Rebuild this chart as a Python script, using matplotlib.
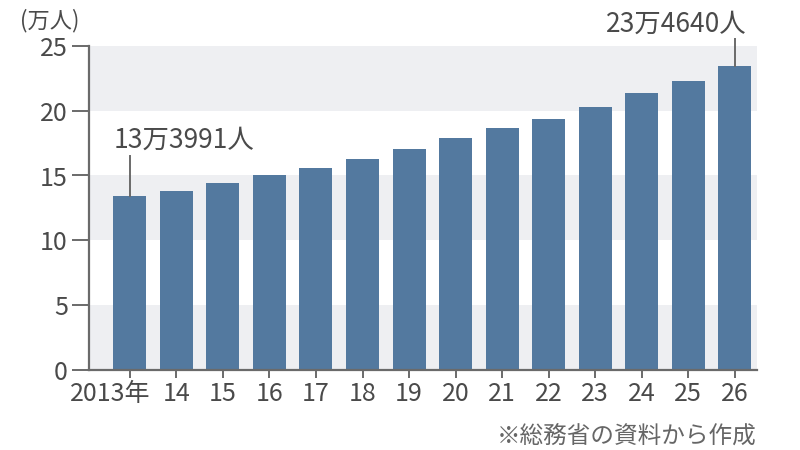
import matplotlib
matplotlib.use('Agg')
import matplotlib.pyplot as plt
import matplotlib.transforms as mtransforms

years = ['2013年', '14', '15', '16', '17', '18', '19', '20', '21', '22', '23', '24', '25', '26']
values = [13.3991, 13.77, 14.4, 15.0, 15.6, 16.3, 17.05, 17.9, 18.65, 19.37, 20.3, 21.35, 22.3, 23.464]
first_label = '13万3991人'
last_label = '23万4640人'
unit_label = '(万人)'
source_label = '※総務省の資料から作成'

fam = ['Noto Sans CJK JP', 'DejaVu Sans']
plt.rcParams['font.family'] = fam
txt = '#4a4a4a'
bar_c = '#53799f'
band_c = '#eeeff2'

fig = plt.figure(figsize=(8, 4.5), dpi=100)
ax = fig.add_axes([0.111, 0.178, 0.835, 0.72])

x = list(range(len(values)))
# alternating bands
for lo in range(0, 25, 10):
    ax.axhspan(lo, lo + 5, color=band_c, zorder=0, lw=0)
ax.bar(x, values, width=0.71, color=bar_c, zorder=2)

ax.set_xlim(-0.88, len(values) - 0.53)
ax.set_ylim(0, 25)
ax.set_yticks([0, 5, 10, 15, 20, 25])
ax.set_xticks(x)
ax.set_xticklabels(years)
for s in ['top', 'right']:
    ax.spines[s].set_visible(False)
ax.spines['left'].set_color('#6a6a6a')
ax.spines['left'].set_linewidth(1.6)
ax.spines['bottom'].set_color('#6a6a6a')
ax.spines['bottom'].set_linewidth(1.6)
ax.tick_params(axis='y', length=12, width=1.4, color='#6a6a6a', labelsize=18, labelcolor=txt, pad=3)
ax.tick_params(axis='x', length=6, width=1.4, color='#6a6a6a', labelsize=18, labelcolor=txt, pad=2)

# shift the first year label left so it does not hit "14"
lab0 = ax.get_xticklabels()[0]
lab0.set_transform(lab0.get_transform() + mtransforms.ScaledTranslation(-0.2, 0, fig.dpi_scale_trans))

# annotations
ax.plot([0, 0], [values[0], values[0] + 3.1], color='#6a6a6a', lw=1.4, zorder=3)
ax.text(-0.35, values[0] + 3.3, first_label, fontsize=19, color=txt, ha='left', va='bottom')
ax.plot([13, 13], [values[-1], 25.5], color='#6a6a6a', lw=1.4, zorder=3, clip_on=False)
ax.text(13.25, 25.6, last_label, fontsize=19, color=txt, ha='right', va='bottom', clip_on=False)

fig.text(0.025, 0.955, unit_label, fontsize=16, color=txt, ha='left', va='center')
fig.text(0.946, 0.03, source_label, fontsize=17, color='#666666', ha='right', va='center')

fig.savefig('out.png', dpi=100)
